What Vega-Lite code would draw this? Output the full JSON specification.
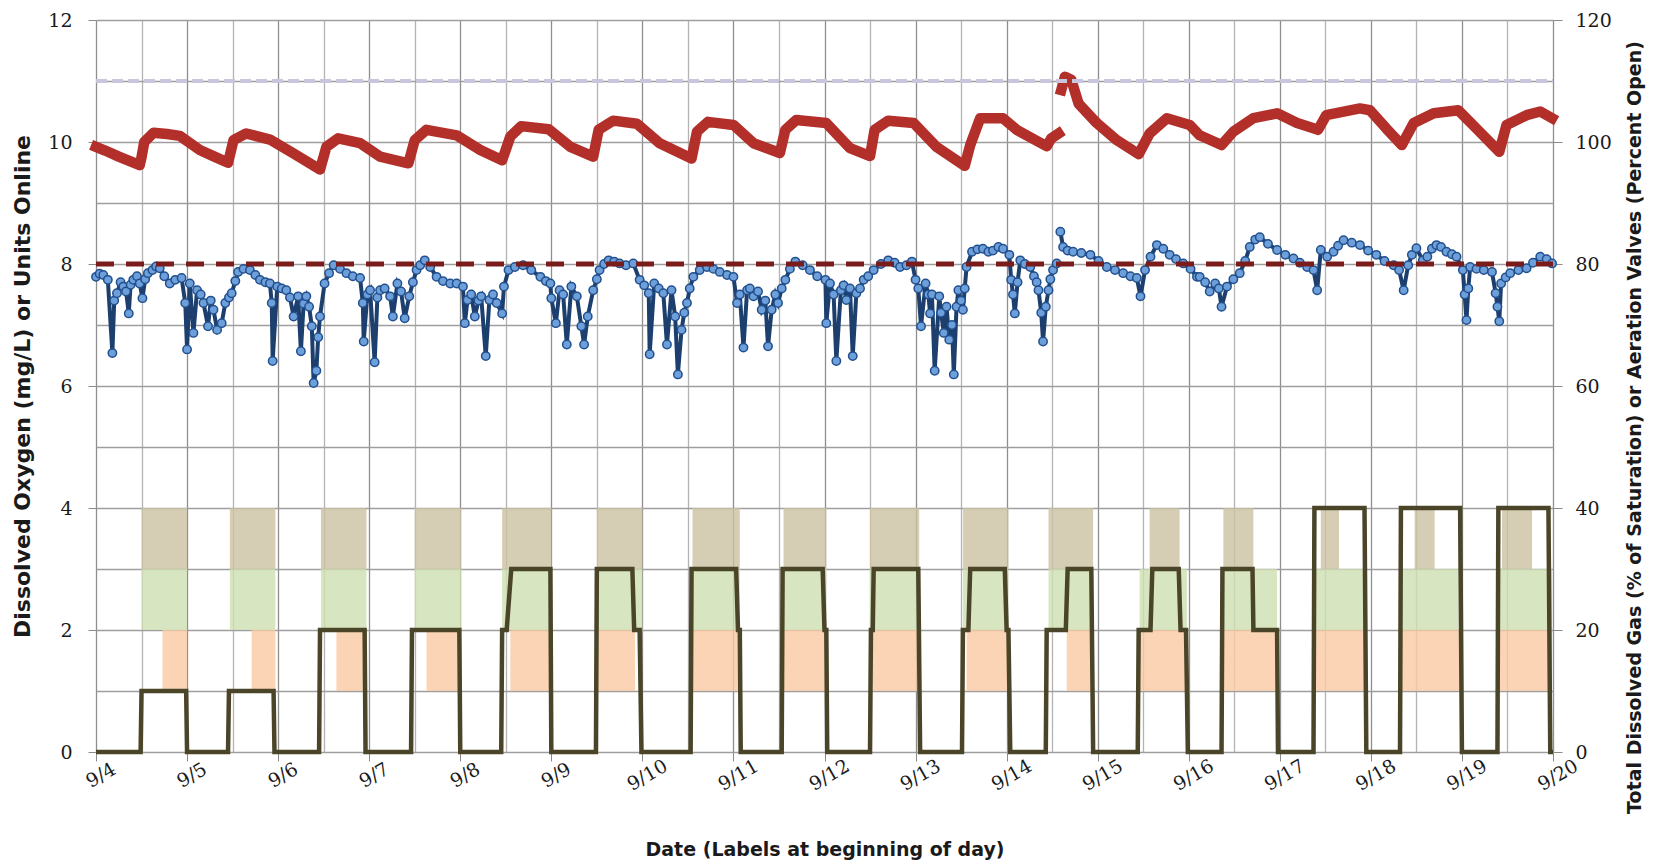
{
 "$schema": "https://vega.github.io/schema/vega-lite/v6.json",
 "width": 1457, "height": 732,
 "autosize": {"type": "none"},
 "padding": {"left": 96, "top": 20, "right": 111, "bottom": 111},
 "background": "white",
 "config": {"view": {"stroke": null}, "font": "DejaVu Sans"},
 "datasets": {
  "shade": [
   {"level":"upper","day":0.50,"day2":1.00,"value":3,"value2":4},{"level":"middle","day":0.50,"day2":1.00,"value":2,"value2":3},{"level":"lower","day":0.73,"day2":1.00,"value":1,"value2":2},
   {"level":"upper","day":1.47,"day2":1.97,"value":3,"value2":4},{"level":"middle","day":1.47,"day2":1.97,"value":2,"value2":3},{"level":"lower","day":1.71,"day2":1.97,"value":1,"value2":2},
   {"level":"upper","day":2.47,"day2":2.97,"value":3,"value2":4},{"level":"middle","day":2.47,"day2":2.97,"value":2,"value2":3},{"level":"lower","day":2.64,"day2":2.97,"value":1,"value2":2},
   {"level":"upper","day":3.50,"day2":4.01,"value":3,"value2":4},{"level":"middle","day":3.50,"day2":4.01,"value":2,"value2":3},{"level":"lower","day":3.63,"day2":4.00,"value":1,"value2":2},
   {"level":"upper","day":4.46,"day2":5.00,"value":3,"value2":4},{"level":"middle","day":4.46,"day2":5.00,"value":2,"value2":3},{"level":"lower","day":4.55,"day2":5.00,"value":1,"value2":2},
   {"level":"upper","day":5.50,"day2":6.00,"value":3,"value2":4},{"level":"middle","day":5.50,"day2":6.00,"value":2,"value2":3},{"level":"lower","day":5.51,"day2":5.92,"value":1,"value2":2},
   {"level":"upper","day":6.55,"day2":7.07,"value":3,"value2":4},{"level":"middle","day":6.55,"day2":7.07,"value":2,"value2":3},{"level":"lower","day":6.55,"day2":7.05,"value":1,"value2":2},
   {"level":"upper","day":7.55,"day2":8.02,"value":3,"value2":4},{"level":"middle","day":7.55,"day2":8.02,"value":2,"value2":3},{"level":"lower","day":7.55,"day2":8.01,"value":1,"value2":2},
   {"level":"upper","day":8.50,"day2":9.04,"value":3,"value2":4},{"level":"middle","day":8.50,"day2":9.04,"value":2,"value2":3},{"level":"lower","day":8.53,"day2":9.03,"value":1,"value2":2},
   {"level":"upper","day":9.52,"day2":10.02,"value":3,"value2":4},{"level":"middle","day":9.52,"day2":10.02,"value":2,"value2":3},{"level":"lower","day":9.56,"day2":10.02,"value":1,"value2":2},
   {"level":"upper","day":10.46,"day2":10.95,"value":3,"value2":4},{"level":"middle","day":10.46,"day2":10.95,"value":2,"value2":3},{"level":"lower","day":10.66,"day2":10.93,"value":1,"value2":2},
   {"level":"upper","day":11.57,"day2":11.90,"value":3,"value2":4},{"level":"middle","day":11.46,"day2":11.98,"value":2,"value2":3},{"level":"lower","day":11.46,"day2":11.98,"value":1,"value2":2},
   {"level":"upper","day":12.38,"day2":12.71,"value":3,"value2":4},{"level":"middle","day":12.38,"day2":12.97,"value":2,"value2":3},{"level":"lower","day":12.38,"day2":12.99,"value":1,"value2":2},
   {"level":"upper","day":13.45,"day2":13.65,"value":3,"value2":4},{"level":"middle","day":13.38,"day2":13.92,"value":2,"value2":3},{"level":"lower","day":13.38,"day2":13.95,"value":1,"value2":2},
   {"level":"upper","day":14.48,"day2":14.70,"value":3,"value2":4},{"level":"middle","day":14.34,"day2":14.96,"value":2,"value2":3},{"level":"lower","day":14.34,"day2":14.98,"value":1,"value2":2},
   {"level":"upper","day":15.44,"day2":15.77,"value":3,"value2":4},{"level":"middle","day":15.40,"day2":15.99,"value":2,"value2":3},{"level":"lower","day":15.40,"day2":15.99,"value":1,"value2":2}
  ],
  "units": [
   {"day":0,"value":0},{"day":0.49,"value":0},{"day":0.50,"value":1},{"day":0.99,"value":1},{"day":1.00,"value":0},
   {"day":1.45,"value":0},{"day":1.46,"value":1},{"day":1.95,"value":1},{"day":1.96,"value":0},
   {"day":2.45,"value":0},{"day":2.46,"value":2},{"day":2.95,"value":2},{"day":2.96,"value":0},
   {"day":3.46,"value":0},{"day":3.47,"value":2},{"day":3.99,"value":2},{"day":4.00,"value":0},
   {"day":4.45,"value":0},{"day":4.46,"value":2},{"day":4.51,"value":2},{"day":4.56,"value":3},{"day":4.99,"value":3},{"day":5.00,"value":0},
   {"day":5.49,"value":0},{"day":5.50,"value":3},{"day":5.89,"value":3},{"day":5.91,"value":2},{"day":5.97,"value":2},{"day":5.99,"value":0},
   {"day":6.53,"value":0},{"day":6.54,"value":3},{"day":7.03,"value":3},{"day":7.05,"value":2},{"day":7.07,"value":2},{"day":7.08,"value":0},
   {"day":7.53,"value":0},{"day":7.54,"value":3},{"day":7.98,"value":3},{"day":8.00,"value":2},{"day":8.02,"value":2},{"day":8.03,"value":0},
   {"day":8.50,"value":0},{"day":8.51,"value":2},{"day":8.53,"value":2},{"day":8.54,"value":3},{"day":9.03,"value":3},{"day":9.05,"value":0},
   {"day":9.51,"value":0},{"day":9.52,"value":2},{"day":9.58,"value":2},{"day":9.60,"value":3},{"day":9.98,"value":3},{"day":10.00,"value":2},{"day":10.02,"value":2},{"day":10.04,"value":0},
   {"day":10.43,"value":0},{"day":10.44,"value":2},{"day":10.65,"value":2},{"day":10.67,"value":3},{"day":10.93,"value":3},{"day":10.95,"value":0},
   {"day":11.44,"value":0},{"day":11.45,"value":2},{"day":11.58,"value":2},{"day":11.60,"value":3},{"day":11.89,"value":3},{"day":11.91,"value":2},{"day":11.97,"value":2},{"day":11.99,"value":0},
   {"day":12.36,"value":0},{"day":12.37,"value":3},{"day":12.70,"value":3},{"day":12.71,"value":2},{"day":12.97,"value":2},{"day":12.98,"value":0},
   {"day":13.37,"value":0},{"day":13.38,"value":4},{"day":13.93,"value":4},{"day":13.95,"value":0},
   {"day":14.32,"value":0},{"day":14.33,"value":4},{"day":14.98,"value":4},{"day":15.00,"value":0},
   {"day":15.39,"value":0},{"day":15.40,"value":4},{"day":15.95,"value":4},{"day":15.97,"value":0},{"day":16.00,"value":0}
  ],
  "do": [
   {"seg":1,"day":0.00,"value":7.79},{"seg":1,"day":0.04,"value":7.84},{"seg":1,"day":0.08,"value":7.82},{"seg":1,"day":0.13,"value":7.74},{"seg":1,"day":0.18,"value":6.54},{"seg":1,"day":0.20,"value":7.40},{"seg":1,"day":0.23,"value":7.52},{"seg":1,"day":0.27,"value":7.70},{"seg":1,"day":0.30,"value":7.63},{"seg":1,"day":0.33,"value":7.55},{"seg":1,"day":0.36,"value":7.19},{"seg":1,"day":0.38,"value":7.66},{"seg":1,"day":0.41,"value":7.74},{"seg":1,"day":0.45,"value":7.80},{"seg":1,"day":0.48,"value":7.68},{"seg":1,"day":0.51,"value":7.44},{"seg":1,"day":0.54,"value":7.75},{"seg":1,"day":0.57,"value":7.85},{"seg":1,"day":0.62,"value":7.90},{"seg":1,"day":0.66,"value":7.96},{"seg":1,"day":0.70,"value":7.93},{"seg":1,"day":0.75,"value":7.80},{"seg":1,"day":0.81,"value":7.68},{"seg":1,"day":0.87,"value":7.74},{"seg":1,"day":0.94,"value":7.77},{"seg":1,"day":0.98,"value":7.36},{"seg":1,"day":1.00,"value":6.60},
   {"seg":1,"day":1.03,"value":7.68},{"seg":1,"day":1.07,"value":6.87},{"seg":1,"day":1.11,"value":7.57},{"seg":1,"day":1.15,"value":7.50},{"seg":1,"day":1.18,"value":7.36},{"seg":1,"day":1.23,"value":6.98},{"seg":1,"day":1.26,"value":7.40},{"seg":1,"day":1.29,"value":7.25},{"seg":1,"day":1.33,"value":6.92},{"seg":1,"day":1.38,"value":7.03},{"seg":1,"day":1.42,"value":7.36},{"seg":1,"day":1.46,"value":7.45},{"seg":1,"day":1.49,"value":7.52},{"seg":1,"day":1.53,"value":7.72},{"seg":1,"day":1.56,"value":7.87},{"seg":1,"day":1.62,"value":7.92},{"seg":1,"day":1.69,"value":7.90},{"seg":1,"day":1.75,"value":7.82},{"seg":1,"day":1.80,"value":7.74},{"seg":1,"day":1.86,"value":7.70},{"seg":1,"day":1.91,"value":7.68},{"seg":1,"day":1.93,"value":7.36},{"seg":1,"day":1.94,"value":6.41},{"seg":1,"day":1.99,"value":7.63},
   {"seg":1,"day":2.04,"value":7.60},{"seg":1,"day":2.09,"value":7.57},{"seg":1,"day":2.13,"value":7.45},{"seg":1,"day":2.17,"value":7.14},{"seg":1,"day":2.22,"value":7.47},{"seg":1,"day":2.25,"value":6.57},{"seg":1,"day":2.28,"value":7.35},{"seg":1,"day":2.31,"value":7.47},{"seg":1,"day":2.34,"value":7.30},{"seg":1,"day":2.37,"value":6.98},{"seg":1,"day":2.39,"value":6.05},{"seg":1,"day":2.42,"value":6.25},{"seg":1,"day":2.44,"value":6.80},{"seg":1,"day":2.46,"value":7.14},{"seg":1,"day":2.51,"value":7.68},{"seg":1,"day":2.56,"value":7.85},{"seg":1,"day":2.61,"value":7.98},{"seg":1,"day":2.68,"value":7.92},{"seg":1,"day":2.75,"value":7.85},{"seg":1,"day":2.82,"value":7.80},{"seg":1,"day":2.90,"value":7.77},{"seg":1,"day":2.93,"value":7.36},{"seg":1,"day":2.94,"value":6.73},
   {"seg":1,"day":2.98,"value":7.50},{"seg":1,"day":3.01,"value":7.57},{"seg":1,"day":3.06,"value":6.39},{"seg":1,"day":3.09,"value":7.45},{"seg":1,"day":3.12,"value":7.57},{"seg":1,"day":3.17,"value":7.60},{"seg":1,"day":3.23,"value":7.47},{"seg":1,"day":3.26,"value":7.14},{"seg":1,"day":3.31,"value":7.68},{"seg":1,"day":3.35,"value":7.55},{"seg":1,"day":3.39,"value":7.11},{"seg":1,"day":3.44,"value":7.47},{"seg":1,"day":3.48,"value":7.70},{"seg":1,"day":3.52,"value":7.90},{"seg":1,"day":3.56,"value":7.98},{"seg":1,"day":3.61,"value":8.06},{"seg":1,"day":3.67,"value":7.95},{"seg":1,"day":3.74,"value":7.79},{"seg":1,"day":3.81,"value":7.72},{"seg":1,"day":3.89,"value":7.68},{"seg":1,"day":3.96,"value":7.68},
   {"seg":1,"day":4.03,"value":7.63},{"seg":1,"day":4.05,"value":7.03},{"seg":1,"day":4.08,"value":7.41},{"seg":1,"day":4.12,"value":7.50},{"seg":1,"day":4.16,"value":7.14},{"seg":1,"day":4.20,"value":7.40},{"seg":1,"day":4.23,"value":7.47},{"seg":1,"day":4.28,"value":6.49},{"seg":1,"day":4.32,"value":7.41},{"seg":1,"day":4.36,"value":7.50},{"seg":1,"day":4.40,"value":7.36},{"seg":1,"day":4.46,"value":7.19},{"seg":1,"day":4.48,"value":7.63},{"seg":1,"day":4.53,"value":7.90},{"seg":1,"day":4.60,"value":7.95},{"seg":1,"day":4.69,"value":7.98},{"seg":1,"day":4.78,"value":7.90},{"seg":1,"day":4.88,"value":7.79},{"seg":1,"day":4.94,"value":7.72},{"seg":1,"day":4.99,"value":7.68},
   {"seg":1,"day":5.00,"value":7.44},{"seg":1,"day":5.05,"value":7.03},{"seg":1,"day":5.09,"value":7.57},{"seg":1,"day":5.13,"value":7.50},{"seg":1,"day":5.17,"value":6.68},{"seg":1,"day":5.22,"value":7.63},{"seg":1,"day":5.28,"value":7.47},{"seg":1,"day":5.33,"value":6.98},{"seg":1,"day":5.36,"value":6.68},{"seg":1,"day":5.40,"value":7.14},{"seg":1,"day":5.46,"value":7.57},{"seg":1,"day":5.50,"value":7.75},{"seg":1,"day":5.53,"value":7.90},{"seg":1,"day":5.58,"value":8.00},{"seg":1,"day":5.63,"value":8.06},{"seg":1,"day":5.69,"value":8.04},{"seg":1,"day":5.75,"value":8.01},{"seg":1,"day":5.82,"value":7.98},{"seg":1,"day":5.90,"value":8.01},{"seg":1,"day":5.97,"value":7.74},
   {"seg":1,"day":6.02,"value":7.65},{"seg":1,"day":6.07,"value":7.52},{"seg":1,"day":6.08,"value":6.52},{"seg":1,"day":6.13,"value":7.68},{"seg":1,"day":6.18,"value":7.60},{"seg":1,"day":6.23,"value":7.52},{"seg":1,"day":6.27,"value":6.68},{"seg":1,"day":6.32,"value":7.57},{"seg":1,"day":6.36,"value":7.14},{"seg":1,"day":6.39,"value":6.19},{"seg":1,"day":6.43,"value":6.92},{"seg":1,"day":6.46,"value":7.20},{"seg":1,"day":6.49,"value":7.36},{"seg":1,"day":6.52,"value":7.60},{"seg":1,"day":6.56,"value":7.79},{"seg":1,"day":6.63,"value":7.90},{"seg":1,"day":6.71,"value":7.95},{"seg":1,"day":6.78,"value":7.92},{"seg":1,"day":6.85,"value":7.87},{"seg":1,"day":6.93,"value":7.82},
   {"seg":1,"day":7.00,"value":7.79},{"seg":1,"day":7.04,"value":7.36},{"seg":1,"day":7.07,"value":7.50},{"seg":1,"day":7.11,"value":6.63},{"seg":1,"day":7.15,"value":7.57},{"seg":1,"day":7.18,"value":7.60},{"seg":1,"day":7.22,"value":7.47},{"seg":1,"day":7.27,"value":7.55},{"seg":1,"day":7.31,"value":7.25},{"seg":1,"day":7.35,"value":7.40},{"seg":1,"day":7.38,"value":6.65},{"seg":1,"day":7.42,"value":7.25},{"seg":1,"day":7.46,"value":7.50},{"seg":1,"day":7.49,"value":7.36},{"seg":1,"day":7.53,"value":7.60},{"seg":1,"day":7.57,"value":7.74},{"seg":1,"day":7.62,"value":7.92},{"seg":1,"day":7.68,"value":8.04},{"seg":1,"day":7.76,"value":7.98},{"seg":1,"day":7.84,"value":7.90},{"seg":1,"day":7.92,"value":7.80},
   {"seg":1,"day":8.01,"value":7.74},{"seg":1,"day":8.02,"value":7.03},{"seg":1,"day":8.06,"value":7.68},{"seg":1,"day":8.10,"value":7.50},{"seg":1,"day":8.13,"value":6.41},{"seg":1,"day":8.18,"value":7.57},{"seg":1,"day":8.21,"value":7.65},{"seg":1,"day":8.24,"value":7.41},{"seg":1,"day":8.28,"value":7.60},{"seg":1,"day":8.31,"value":6.49},{"seg":1,"day":8.35,"value":7.52},{"seg":1,"day":8.39,"value":7.60},{"seg":1,"day":8.43,"value":7.74},{"seg":1,"day":8.48,"value":7.80},{"seg":1,"day":8.54,"value":7.90},{"seg":1,"day":8.62,"value":8.00},{"seg":1,"day":8.70,"value":8.06},{"seg":1,"day":8.77,"value":8.02},{"seg":1,"day":8.83,"value":7.95},{"seg":1,"day":8.90,"value":7.98},{"seg":1,"day":8.96,"value":8.04},
   {"seg":1,"day":9.00,"value":7.74},{"seg":1,"day":9.03,"value":7.60},{"seg":1,"day":9.06,"value":6.98},{"seg":1,"day":9.11,"value":7.68},{"seg":1,"day":9.14,"value":7.50},{"seg":1,"day":9.16,"value":7.19},{"seg":1,"day":9.18,"value":7.50},{"seg":1,"day":9.21,"value":6.25},{"seg":1,"day":9.26,"value":7.47},{"seg":1,"day":9.28,"value":7.20},{"seg":1,"day":9.31,"value":6.87},{"seg":1,"day":9.34,"value":7.30},{"seg":1,"day":9.37,"value":6.76},{"seg":1,"day":9.40,"value":7.00},{"seg":1,"day":9.42,"value":6.19},{"seg":1,"day":9.45,"value":7.30},{"seg":1,"day":9.47,"value":7.57},{"seg":1,"day":9.50,"value":7.40},{"seg":1,"day":9.52,"value":7.25},{"seg":1,"day":9.54,"value":7.60},{"seg":1,"day":9.56,"value":7.95},{"seg":1,"day":9.62,"value":8.20},{"seg":1,"day":9.68,"value":8.24},{"seg":1,"day":9.74,"value":8.25},{"seg":1,"day":9.80,"value":8.20},{"seg":1,"day":9.85,"value":8.22},{"seg":1,"day":9.91,"value":8.28},{"seg":1,"day":9.96,"value":8.25},
   {"seg":1,"day":10.03,"value":8.15},{"seg":1,"day":10.05,"value":7.74},{"seg":1,"day":10.07,"value":7.50},{"seg":1,"day":10.09,"value":7.19},{"seg":1,"day":10.12,"value":7.70},{"seg":1,"day":10.15,"value":8.06},{"seg":1,"day":10.20,"value":8.00},{"seg":1,"day":10.26,"value":7.95},{"seg":1,"day":10.30,"value":7.80},{"seg":1,"day":10.33,"value":7.70},{"seg":1,"day":10.35,"value":7.57},{"seg":1,"day":10.38,"value":7.20},{"seg":1,"day":10.40,"value":6.73},{"seg":1,"day":10.43,"value":7.30},{"seg":1,"day":10.46,"value":7.57},{"seg":1,"day":10.48,"value":7.75},{"seg":1,"day":10.51,"value":7.90},{"seg":1,"day":10.55,"value":8.01},
   {"seg":2,"day":10.59,"value":8.53},{"seg":2,"day":10.62,"value":8.28},{"seg":2,"day":10.67,"value":8.22},{"seg":2,"day":10.73,"value":8.20},{"seg":2,"day":10.82,"value":8.18},{"seg":2,"day":10.92,"value":8.15},{"seg":2,"day":11.01,"value":8.05},{"seg":2,"day":11.10,"value":7.95},{"seg":2,"day":11.19,"value":7.90},{"seg":2,"day":11.28,"value":7.85},{"seg":2,"day":11.36,"value":7.80},{"seg":2,"day":11.43,"value":7.77},{"seg":2,"day":11.47,"value":7.47},{"seg":2,"day":11.52,"value":7.90},{"seg":2,"day":11.58,"value":8.12},{"seg":2,"day":11.65,"value":8.31},{"seg":2,"day":11.72,"value":8.25},{"seg":2,"day":11.79,"value":8.15},{"seg":2,"day":11.86,"value":8.08},{"seg":2,"day":11.94,"value":8.01},{"seg":2,"day":12.02,"value":7.92},
   {"seg":2,"day":12.09,"value":7.79},{"seg":2,"day":12.12,"value":7.79},{"seg":2,"day":12.18,"value":7.70},{"seg":2,"day":12.23,"value":7.55},{"seg":2,"day":12.29,"value":7.68},{"seg":2,"day":12.33,"value":7.60},{"seg":2,"day":12.36,"value":7.30},{"seg":2,"day":12.42,"value":7.63},{"seg":2,"day":12.49,"value":7.75},{"seg":2,"day":12.56,"value":7.85},{"seg":2,"day":12.62,"value":8.05},{"seg":2,"day":12.67,"value":8.28},{"seg":2,"day":12.73,"value":8.40},{"seg":2,"day":12.78,"value":8.44},{"seg":2,"day":12.87,"value":8.33},{"seg":2,"day":12.97,"value":8.23},
   {"seg":2,"day":13.06,"value":8.15},{"seg":2,"day":13.15,"value":8.09},{"seg":2,"day":13.22,"value":8.02},{"seg":2,"day":13.30,"value":7.95},{"seg":2,"day":13.37,"value":7.90},{"seg":2,"day":13.41,"value":7.57},{"seg":2,"day":13.45,"value":8.23},{"seg":2,"day":13.52,"value":8.12},{"seg":2,"day":13.59,"value":8.20},{"seg":2,"day":13.64,"value":8.30},{"seg":2,"day":13.70,"value":8.39},{"seg":2,"day":13.79,"value":8.35},{"seg":2,"day":13.88,"value":8.31},{"seg":2,"day":13.97,"value":8.22},
   {"seg":2,"day":14.06,"value":8.15},{"seg":2,"day":14.15,"value":8.05},{"seg":2,"day":14.25,"value":7.98},{"seg":2,"day":14.31,"value":7.90},{"seg":2,"day":14.36,"value":7.57},{"seg":2,"day":14.41,"value":7.98},{"seg":2,"day":14.45,"value":8.15},{"seg":2,"day":14.50,"value":8.26},{"seg":2,"day":14.57,"value":8.06},{"seg":2,"day":14.62,"value":8.12},{"seg":2,"day":14.67,"value":8.25},{"seg":2,"day":14.72,"value":8.31},{"seg":2,"day":14.77,"value":8.28},{"seg":2,"day":14.83,"value":8.20},{"seg":2,"day":14.89,"value":8.16},{"seg":2,"day":14.94,"value":8.12},
   {"seg":2,"day":15.01,"value":7.90},{"seg":2,"day":15.03,"value":7.50},{"seg":2,"day":15.05,"value":7.08},{"seg":2,"day":15.07,"value":7.60},{"seg":2,"day":15.09,"value":7.95},{"seg":2,"day":15.16,"value":7.92},{"seg":2,"day":15.24,"value":7.90},{"seg":2,"day":15.33,"value":7.87},{"seg":2,"day":15.37,"value":7.52},{"seg":2,"day":15.39,"value":7.30},{"seg":2,"day":15.41,"value":7.06},{"seg":2,"day":15.43,"value":7.68},{"seg":2,"day":15.48,"value":7.78},{"seg":2,"day":15.53,"value":7.85},{"seg":2,"day":15.62,"value":7.90},{"seg":2,"day":15.71,"value":7.93},{"seg":2,"day":15.78,"value":8.02},{"seg":2,"day":15.86,"value":8.12},{"seg":2,"day":15.93,"value":8.08},{"seg":2,"day":15.99,"value":8.01}
  ],
  "tdg": [
   {"seg":1,"day":0.00,"pct":99.2},{"seg":1,"day":0.10,"pct":98.6},{"seg":1,"day":0.25,"pct":97.6},{"seg":1,"day":0.48,"pct":96.2},{"seg":1,"day":0.50,"pct":97.5},{"seg":1,"day":0.53,"pct":100.0},{"seg":1,"day":0.63,"pct":101.5},{"seg":1,"day":0.78,"pct":101.3},{"seg":1,"day":0.92,"pct":101.0},
   {"seg":1,"day":1.14,"pct":98.7},{"seg":1,"day":1.30,"pct":97.6},{"seg":1,"day":1.45,"pct":96.6},{"seg":1,"day":1.51,"pct":100.3},{"seg":1,"day":1.65,"pct":101.4},{"seg":1,"day":1.91,"pct":100.4},
   {"seg":1,"day":2.17,"pct":98.1},{"seg":1,"day":2.46,"pct":95.5},{"seg":1,"day":2.53,"pct":99.2},{"seg":1,"day":2.66,"pct":100.6},{"seg":1,"day":2.90,"pct":99.8},
   {"seg":1,"day":3.12,"pct":97.6},{"seg":1,"day":3.43,"pct":96.5},{"seg":1,"day":3.50,"pct":100.3},{"seg":1,"day":3.63,"pct":102.0},{"seg":1,"day":3.96,"pct":101.1},
   {"seg":1,"day":4.22,"pct":98.7},{"seg":1,"day":4.46,"pct":97.0},{"seg":1,"day":4.55,"pct":100.9},{"seg":1,"day":4.67,"pct":102.6},{"seg":1,"day":4.97,"pct":102.1},
   {"seg":1,"day":5.21,"pct":99.2},{"seg":1,"day":5.46,"pct":97.6},{"seg":1,"day":5.52,"pct":102.0},{"seg":1,"day":5.68,"pct":103.5},{"seg":1,"day":5.94,"pct":103.0},
   {"seg":1,"day":6.19,"pct":99.8},{"seg":1,"day":6.54,"pct":97.3},{"seg":1,"day":6.60,"pct":101.7},{"seg":1,"day":6.72,"pct":103.3},{"seg":1,"day":7.00,"pct":102.8},
   {"seg":1,"day":7.22,"pct":99.8},{"seg":1,"day":7.51,"pct":98.2},{"seg":1,"day":7.57,"pct":102.0},{"seg":1,"day":7.69,"pct":103.6},{"seg":1,"day":8.02,"pct":103.1},
   {"seg":1,"day":8.28,"pct":99.0},{"seg":1,"day":8.50,"pct":97.7},{"seg":1,"day":8.55,"pct":102.0},{"seg":1,"day":8.70,"pct":103.5},{"seg":1,"day":8.98,"pct":103.1},
   {"seg":1,"day":9.23,"pct":99.2},{"seg":1,"day":9.54,"pct":96.1},{"seg":1,"day":9.60,"pct":99.5},{"seg":1,"day":9.71,"pct":103.9},{"seg":1,"day":9.96,"pct":103.9},
   {"seg":1,"day":10.11,"pct":102.0},{"seg":1,"day":10.44,"pct":99.3},{"seg":1,"day":10.49,"pct":100.6},{"seg":1,"day":10.57,"pct":101.4},
   {"seg":2,"day":10.60,"pct":108.5},{"seg":2,"day":10.64,"pct":110.7},{"seg":2,"day":10.71,"pct":110.2},{"seg":2,"day":10.79,"pct":106.3},{"seg":2,"day":10.99,"pct":103.1},
   {"seg":2,"day":11.21,"pct":100.3},{"seg":2,"day":11.45,"pct":98.0},{"seg":2,"day":11.57,"pct":101.4},{"seg":2,"day":11.76,"pct":103.9},{"seg":2,"day":12.01,"pct":102.8},
   {"seg":2,"day":12.12,"pct":101.1},{"seg":2,"day":12.36,"pct":99.5},{"seg":2,"day":12.49,"pct":101.7},{"seg":2,"day":12.71,"pct":103.9},{"seg":2,"day":12.97,"pct":104.7},
   {"seg":2,"day":13.19,"pct":103.1},{"seg":2,"day":13.42,"pct":102.0},{"seg":2,"day":13.51,"pct":104.4},{"seg":2,"day":13.88,"pct":105.5},{"seg":2,"day":13.99,"pct":105.2},
   {"seg":2,"day":14.17,"pct":102.2},{"seg":2,"day":14.34,"pct":99.5},{"seg":2,"day":14.47,"pct":103.1},{"seg":2,"day":14.69,"pct":104.7},{"seg":2,"day":14.96,"pct":105.2},
   {"seg":2,"day":15.16,"pct":102.2},{"seg":2,"day":15.41,"pct":98.4},{"seg":2,"day":15.49,"pct":102.8},{"seg":2,"day":15.71,"pct":104.4},{"seg":2,"day":15.86,"pct":105.0},{"seg":2,"day":15.99,"pct":103.9}
  ],
  "limits": [
   {"limit":"DO","day":0,"value":8},{"limit":"DO","day":16,"value":8},
   {"limit":"TDG","day":0,"pct":110},{"limit":"TDG","day":16,"pct":110}
  ]
 },
 "layer": [
  {
   "layer": [
    {
     "data": {"name": "shade"},
     "mark": {"type": "rect", "opacity": 0.8},
     "encoding": {
      "x": {"field": "day", "type": "quantitative", "scale": {"domain": [0, 16], "nice": false, "zero": false},
       "axis": {"orient": "bottom", "title": "Date (Labels at beginning of day)",
        "values": [0,0.25,0.5,0.75,1,1.25,1.5,1.75,2,2.25,2.5,2.75,3,3.25,3.5,3.75,4,4.25,4.5,4.75,5,5.25,5.5,5.75,6,6.25,6.5,6.75,7,7.25,7.5,7.75,8,8.25,8.5,8.75,9,9.25,9.5,9.75,10,10.25,10.5,10.75,11,11.25,11.5,11.75,12,12.25,12.5,12.75,13,13.25,13.5,13.75,14,14.25,14.5,14.75,15,15.25,15.5,15.75,16],
        "labelExpr": "datum.value % 1 === 0 ? '9/' + (datum.value + 4) : ''",
        "labelOverlap": false, "labelFlush": false, "labelBound": false,
        "labelAngle": -30, "labelAlign": "center", "labelBaseline": "top",
        "labelFont": "DejaVu Serif", "labelFontSize": 19, "labelColor": "#1a1a1a", "labelPadding": 6,
        "tickSize": 9, "tickColor": "#8a8a8a", "tickOpacity": {"condition": {"test": "datum.value % 1 !== 0", "value": 0}, "value": 1},
        "grid": true, "gridColor": {"condition": {"test": "datum.value % 1 === 0", "value": "#8e8e8e"}, "value": "#b3b3b3"}, "gridWidth": 1.3,
        "domain": false,
        "titleFont": "DejaVu Sans", "titleFontWeight": "bold", "titleFontSize": 19, "titleColor": "#1a1a1a",
        "titleY": 97, "titleBaseline": "middle"}},
      "x2": {"field": "day2"},
      "y": {"field": "value", "type": "quantitative", "scale": {"domain": [0, 12], "nice": false, "zero": true},
       "axis": {"orient": "left", "title": "Dissolved Oxygen (mg/L) or Units Online",
        "values": [0,1,2,3,4,5,6,7,8,9,10,11,12], "format": "d",
        "labelExpr": "datum.value % 2 === 0 ? datum.label : ''",
        "labelOverlap": false, "labelFont": "DejaVu Serif", "labelFontSize": 19, "labelColor": "#1a1a1a", "labelPadding": 16,
        "tickSize": 8, "tickColor": "#8a8a8a", "tickOpacity": {"condition": {"test": "datum.value % 2 !== 0", "value": 0}, "value": 1},
        "grid": true, "gridColor": "#9e9e9e", "gridWidth": 1.3, "domain": false,
        "titleFont": "DejaVu Sans", "titleFontWeight": "bold", "titleFontSize": 22, "titleColor": "#1a1a1a",
        "titleX": -74, "titleY": 366, "titleAngle": -90, "titleAlign": "center", "titleBaseline": "middle"}},
      "y2": {"field": "value2"},
      "color": {"field": "level", "type": "nominal", "scale": {"domain": ["upper", "middle", "lower"], "range": ["#ccc2a1", "#cde0b2", "#f9c9a1"]}, "legend": null}
     }
    },
    {
     "data": {"name": "units"},
     "mark": {"type": "line", "color": "#4a4529", "strokeWidth": 4.5, "strokeJoin": "miter"},
     "encoding": {
      "x": {"field": "day", "type": "quantitative"},
      "y": {"field": "value", "type": "quantitative"}
     }
    },
    {
     "data": {"name": "do"},
     "mark": {"type": "line", "color": "#1c3f6e", "strokeWidth": 4},
     "encoding": {
      "x": {"field": "day", "type": "quantitative"},
      "y": {"field": "value", "type": "quantitative"},
      "detail": {"field": "seg", "type": "nominal"}
     }
    },
    {
     "data": {"name": "do"},
     "mark": {"type": "point", "shape": "circle", "filled": true, "fill": "#6d9fda", "stroke": "#22508e", "strokeWidth": 1.5, "size": 70, "opacity": 1},
     "encoding": {
      "x": {"field": "day", "type": "quantitative"},
      "y": {"field": "value", "type": "quantitative"}
     }
    },
    {
     "data": {"name": "limits"},
     "transform": [{"filter": "datum.limit === 'DO'"}],
     "mark": {"type": "line", "color": "#7b1c1c", "strokeWidth": 5, "strokeDash": [18, 12]},
     "encoding": {
      "x": {"field": "day", "type": "quantitative"},
      "y": {"field": "value", "type": "quantitative"}
     }
    }
   ]
  },
  {
   "layer": [
    {
     "data": {"name": "tdg"},
     "mark": {"type": "line", "color": "#b32f2a", "strokeWidth": 10.5, "strokeJoin": "round", "strokeCap": "square"},
     "encoding": {
      "x": {"field": "day", "type": "quantitative"},
      "y": {"field": "pct", "type": "quantitative", "scale": {"domain": [0, 120], "nice": false, "zero": true},
       "axis": {"orient": "right", "title": "Total Dissolved Gas  (% of Saturation) or Aeration Valves (Percent Open)",
        "values": [0,20,40,60,80,100,120], "grid": false, "domain": false,
        "labelFont": "DejaVu Serif", "labelFontSize": 19, "labelColor": "#1a1a1a", "labelPadding": 13,
        "tickSize": 9, "tickColor": "#8a8a8a",
        "titleFont": "DejaVu Sans", "titleFontWeight": "bold", "titleFontSize": 19, "titleColor": "#1a1a1a",
        "titleX": 81, "titleY": 407, "titleAngle": -90, "titleAlign": "center", "titleBaseline": "middle"}},
      "detail": {"field": "seg", "type": "nominal"}
     }
    },
    {
     "data": {"name": "limits"},
     "transform": [{"filter": "datum.limit === 'TDG'"}],
     "mark": {"type": "line", "color": "#cbc4df", "strokeWidth": 4, "strokeDash": [11, 5]},
     "encoding": {
      "x": {"field": "day", "type": "quantitative"},
      "y": {"field": "pct", "type": "quantitative"}
     }
    }
   ]
  }
 ],
 "resolve": {"scale": {"y": "independent"}}
}
